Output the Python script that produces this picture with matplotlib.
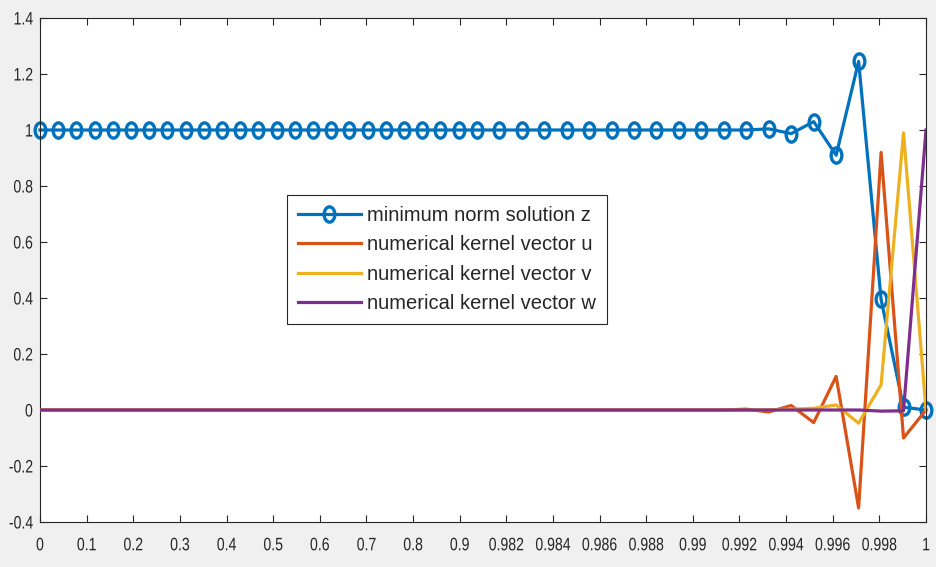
import numpy as np
import matplotlib
matplotlib.use("Agg")
import matplotlib.pyplot as plt
from matplotlib.path import Path
from matplotlib.transforms import Affine2D
from matplotlib.patheffects import AbstractPathEffect

# --- data ---
# x positions of the samples, in tick units (ticks sit at 0, 1, ..., 19)
x_pos = [0.000, 0.390, 0.781, 1.171, 1.561, 1.952, 2.342, 2.732, 3.122, 3.513,
         3.903, 4.293, 4.684, 5.074, 5.464, 5.855, 6.245, 6.635, 7.025, 7.416,
         7.806, 8.196, 8.587, 8.977, 9.367,
         9.849, 10.330, 10.812, 11.294, 11.775, 12.257, 12.739, 13.220, 13.702,
         14.184, 14.665, 15.147, 15.628, 16.110, 16.592, 17.073, 17.555, 18.037,
         18.518, 19.000]

x_labels = ["0", "0.1", "0.2", "0.3", "0.4", "0.5", "0.6", "0.7", "0.8", "0.9",
            "0.982", "0.984", "0.986", "0.988", "0.99", "0.992", "0.994",
            "0.996", "0.998", "1"]

# minimum norm solution z
z = [1.0] * 37 + [1.004, 0.987, 1.03, 0.91, 1.245, 0.395, 0.01, 0.0]
# numerical kernel vectors
u = [0.0] * 36 + [0.003, -0.007, 0.016, -0.045, 0.12, -0.35, 0.92, -0.10, 0.0]
v = [0.0] * 37 + [0.001, 0.003, 0.006, 0.018, -0.047, 0.09, 0.99, 0.0]
w = [0.0] * 42 + [-0.004, -0.003, 1.0]

# matlab default colours
c_blue = "#0072BD"
c_orange = "#D95319"
c_yellow = "#EDB120"
c_purple = "#7E2F8E"
c_axis = "#262626"


class SquashX(AbstractPathEffect):
    """squeeze text horizontally (the tick labels in the screenshot are narrow)"""
    def __init__(self, sx, anchor="center"):
        super().__init__()
        self.sx = sx
        self.anchor = anchor

    def draw_path(self, renderer, gc, tpath, affine, rgbFace=None):
        ext = tpath.get_extents()
        cx = ext.x1 if self.anchor == "right" else 0.5 * (ext.x0 + ext.x1)
        t = Affine2D().translate(-cx, 0).scale(self.sx, 1).translate(cx, 0) + affine
        renderer.draw_path(gc, tpath, t, rgbFace)


# slightly squashed circle marker
circ = Path.unit_circle()
ellipse = Path(circ.vertices * np.array([0.7, 1.0]), circ.codes)

fig = plt.figure(figsize=(9.37, 5.67), dpi=100, facecolor="#f0f0f0")
ax = fig.add_axes([40 / 937, 45 / 567, 886 / 937, 504 / 567])

ax.plot(x_pos, z, color=c_blue, lw=2.3, marker=ellipse, ms=11, mew=2.4,
        mfc="none", label="minimum norm solution z", clip_on=False, zorder=2)
ax.plot(x_pos, u, color=c_orange, lw=2.3, label="numerical kernel vector u", zorder=3)
ax.plot(x_pos, v, color=c_yellow, lw=2.3, label="numerical kernel vector v", zorder=4)
ax.plot(x_pos, w, color=c_purple, lw=2.3, label="numerical kernel vector w", zorder=5)

ax.set_xlim(0, 19)
ax.set_ylim(-0.4, 1.4)
ax.set_xticks(range(len(x_labels)))
ax.set_xticklabels(x_labels)
yt = np.round(np.arange(-0.4, 1.41, 0.2), 1)
ax.set_yticks(yt)
ax.set_yticklabels(["%g" % t for t in yt])

ax.tick_params(direction="in", length=5, width=0.8, color=c_axis,
               top=True, right=True, labelsize=13, labelcolor=c_axis)
ax.tick_params(axis="x", pad=11)
ax.tick_params(axis="y", pad=5)
for lab in ax.get_xticklabels():
    lab.set_family("Liberation Sans")
    lab.set_path_effects([SquashX(0.78)])
for lab in ax.get_yticklabels():
    lab.set_family("Liberation Sans")
    lab.set_path_effects([SquashX(0.78, "right")])

for sp in ax.spines.values():
    sp.set_color(c_axis)
    sp.set_linewidth(0.8)

leg = ax.legend(loc="upper left", bbox_to_anchor=(0.279, 0.649),
                prop={"family": ["Liberation Sans", "DejaVu Sans"], "size": 14.5},
                fancybox=False, edgecolor=c_axis, framealpha=1,
                handlelength=3.1, handletextpad=0.3, borderpad=0.55,
                labelspacing=0.52, borderaxespad=0)
leg.get_frame().set_linewidth(0.8)
for t in leg.get_texts():
    t.set_color(c_axis)

fig.savefig("out.png", dpi=100, facecolor=fig.get_facecolor())
